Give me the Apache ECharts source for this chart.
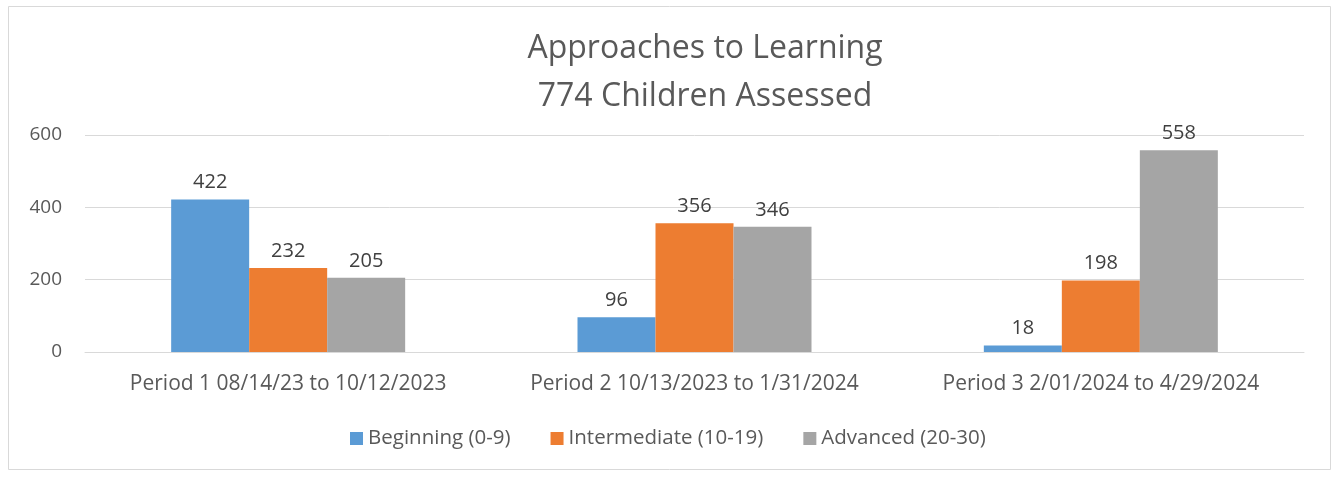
<!DOCTYPE html>
<html>
<head>
<meta charset="utf-8">
<script src="https://cdn.jsdelivr.net/npm/echarts@6/dist/echarts.min.js"></script>
<style>
  html, body { margin: 0; padding: 0; background: #fff; }
  #chart { width: 1334px; height: 477px; }
</style>
</head>
<body>
<div id="chart"></div>
<script>
const categories = [
  "Period 1 08/14/23 to 10/12/2023",
  "Period 2 10/13/2023 to 1/31/2024",
  "Period 3 2/01/2024 to 4/29/2024",
];
const beginning = [422, 96, 18];
const intermediate = [232, 356, 198];
const advanced = [205, 346, 558];
const yTicks = [0, 200, 400, 600];

const fontFamily = "'Open Sans', 'Liberation Sans', sans-serif";

const myChart = echarts.init(document.getElementById("chart"));

function barSeries(name, data, color) {
  return {
    name: name,
    type: "bar",
    data: data,
    barWidth: 78,
    barGap: "0%",
    itemStyle: { color: color },
    label: {
      show: true,
      position: "top",
      distance: 7,
      color: "#404040",
      fontSize: 20,
      fontFamily: fontFamily,
    },
  };
}

const option = {
  animation: false,
  backgroundColor: "#fff",
  textStyle: { fontFamily: fontFamily, color: "#595959" },
  title: {
    text: "Approaches to Learning\n774 Children Assessed",
    left: 700,
    textAlign: "center",
    top: 20,
    textStyle: {
      fontSize: 32,
      fontWeight: "normal",
      color: "#595959",
      lineHeight: 48,
      fontFamily: fontFamily,
    },
  },
  graphic: [
    {
      type: "rect",
      shape: { x: 8.5, y: 6.5, width: 1322, height: 463 },
      style: { fill: "none", stroke: "#d9d9d9", lineWidth: 1 },
      silent: true,
    },
  ],
  legend: {
    bottom: 23,
    left: 345,
    itemWidth: 13,
    itemHeight: 13,
    itemGap: 40,
    icon: "rect",
    textStyle: { fontSize: 20.5, color: "#595959", fontFamily: fontFamily },
    data: ["Beginning (0-9)", "Intermediate (10-19)", "Advanced (20-30)"],
  },
  grid: {
    left: 85,
    right: 30,
    top: 135,
    bottom: 125,
  },
  xAxis: {
    type: "category",
    data: categories,
    axisTick: { show: false },
    axisLine: { lineStyle: { color: "#d9d9d9" } },
    axisLabel: { fontSize: 21, color: "#595959", margin: 22, interval: 0, hideOverlap: false },
  },
  yAxis: {
    type: "value",
    min: yTicks[0],
    max: yTicks[yTicks.length - 1],
    interval: 200,
    axisLine: { show: false },
    axisTick: { show: false },
    splitLine: { lineStyle: { color: "#d9d9d9", width: 1 } },
    axisLabel: { fontSize: 19, color: "#595959", margin: 23 },
  },
  series: [
    barSeries("Beginning (0-9)", beginning, "#5B9BD5"),
    barSeries("Intermediate (10-19)", intermediate, "#ED7D31"),
    barSeries("Advanced (20-30)", advanced, "#A5A5A5"),
  ],
};

myChart.setOption(option);
</script>
</body>
</html>
